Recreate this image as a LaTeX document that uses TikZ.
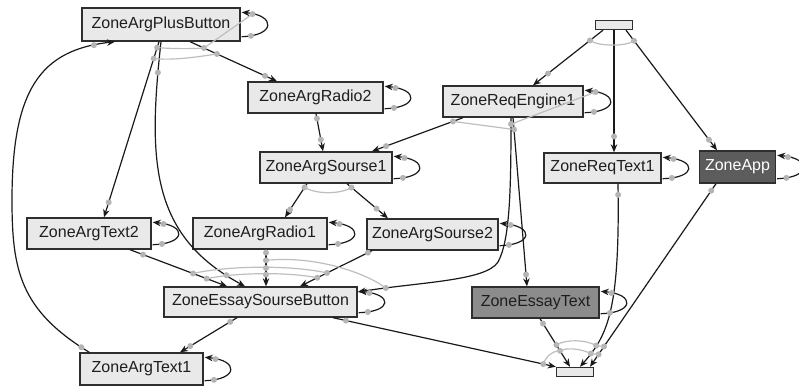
\documentclass[tikz,border=0pt]{standalone}
\usepackage{fontspec}
\setmainfont{Liberation Sans}
\usetikzlibrary{arrows.meta,calc}
\definecolor{bordc}{HTML}{2E2E2E}
\definecolor{boxfill}{HTML}{E9E9E9}
\definecolor{txtc}{HTML}{1E1E1E}
\definecolor{edgec}{HTML}{1A1A1A}
\definecolor{dotc}{HTML}{B4B4B4}
\definecolor{arcc}{HTML}{BEBEBE}
\definecolor{appfill}{HTML}{5C5C5C}
\definecolor{etfill}{HTML}{8C8C8C}
\newcommand\sloop[3]{\draw[edge] ([shift={(1,-5)}]#1.south east) .. controls +(34,-1) and +(34,3) .. ([shift={(1,5)}]#1.north east) node[dotn,pos=0.1](#2){} node[dotn,pos=0.88](#3){};}
\begin{document}
\begin{tikzpicture}[x=1pt,y=-1pt,
  box/.style={draw=bordc, line width=1.4pt, fill=boxfill, text=txtc, inner sep=0pt,
    font=\fontsize{16}{19}\selectfont, minimum height=31pt},
  edge/.style={draw=edgec, line width=1.2pt, -{Stealth[length=8pt,width=6.5pt]}},
  dotn/.style={circle, fill=dotc, inner sep=0pt, minimum size=6pt},
  garc/.style={draw=arcc, line width=1.2pt}]
\fill[white] (0,0) rectangle (799,385);
\useasboundingbox (0,0) rectangle (799,385);

% nodes
\node[box, minimum width=37pt, minimum height=9pt] (top) at (614,25) {};
\node[box, minimum width=158pt, minimum height=33pt] (PB) at (161,24.5) {ZoneArgPlusButton};
\node[box, minimum width=135pt] (R2) at (315.5,97.5) {ZoneArgRadio2};
\node[box, minimum width=140pt] (RE) at (513,101.5) {ZoneReqEngine1};
\node[box, minimum width=132pt] (S1) at (326,167.5) {ZoneArgSourse1};
\node[box, minimum width=117pt, minimum height=30pt] (RT) at (602.5,168) {ZoneReqText1};
\node[box, minimum width=76pt, minimum height=32pt, fill=appfill, text=white] (APP) at (737.5,167) {ZoneApp};
\node[box, minimum width=124pt] (T2) at (89,233.5) {ZoneArgText2};
\node[box, minimum width=134pt] (R1) at (260,233.5) {ZoneArgRadio1};
\node[box, minimum width=131pt] (S2) at (432.5,234.5) {ZoneArgSourse2};
\node[box, minimum width=193pt, minimum height=30pt] (ESB) at (260.5,302) {ZoneEssaySourseButton};
\node[box, minimum width=127pt, fill=etfill] (ET) at (535.5,302.5) {ZoneEssayText};
\node[box, minimum width=123pt, minimum height=32pt] (T1) at (141.5,369) {ZoneArgText1};
\node[box, minimum width=37pt, minimum height=9pt] (bot) at (575,372) {};

% edges
\draw[edge] ([shift={(-11,0)}]top.south) -- ([shift={(20,0)}]RE.north) node[dotn,pos=0.186](d1a){} node[dotn,pos=0.786]{};
\draw[edge] (top.south) -- ([shift={(11.5,0)}]RT.north) node[dotn,pos=0.87]{};
\draw[edge] ([shift={(12,0)}]top.south) -- ([shift={(-20.5,0)}]APP.north) node[dotn,pos=0.088](d3a){} node[dotn,pos=0.912]{};
\draw[edge] ([shift={(29,0)}]PB.south) -- ([shift={(-38.5,0)}]R2.north) node[dotn,pos=0.16](d4a){} node[dotn,pos=0.31](d4b){} node[dotn,pos=0.862]{};
\draw[edge] ([shift={(-2,0)}]PB.south) -- ([shift={(15,0)}]T2.north) node[dotn,pos=0.034](d5a){} node[dotn,pos=0.096](d5b){} node[dotn,pos=0.915]{};
\draw[edge] (PB.south) .. controls (148,160) and (150,235) .. ([shift={(-15.5,0)}]ESB.north) node[dotn,pos=0.09]{} node[dotn,pos=0.93]{};
\draw[edge] ([shift={(10,0)}]T1.north west) .. controls (20,310) and (12,270) .. (12,200) node[dotn,pos=0.04]{}
  .. controls (12,90) and (40,50) .. ([shift={(-46,0)}]PB.south) node[dotn,pos=0.9]{};
\draw[edge] ([shift={(0.5,0)}]R2.south) -- ([shift={(-3,0)}]S1.north) node[dotn,pos=0.13]{} node[dotn,pos=0.69]{};
\draw[edge] ([shift={(-50,0)}]RE.south) -- ([shift={(46,0)}]S1.north) node[dotn,pos=0.11](d9a){} node[dotn,pos=0.846]{};
\draw[edge] (RE.south) -- ([shift={(-8.5,0)}]ET.north) node[dotn,pos=0.07](d10a){} node[dotn,pos=0.93]{};
\draw[edge] ([shift={(-2,0)}]RE.south) .. controls (511,190) and (510,240) .. (498,262) node[dotn,pos=0.03](d11a){}
  .. controls (486,281) and (420,282) .. ([shift={(0,-10)}]ESB.east) node[dotn,pos=0.85](d11b){};
\draw[edge] ([shift={(15.5,0)}]RT.south) .. controls (620,310) and (608,335) .. ([shift={(5,0)}]bot.north) node[dotn,pos=0.03]{} node[dotn,pos=0.78](d12a){} node[dotn,pos=0.86](d12b){};
\draw[edge] ([shift={(-21.5,0)}]APP.south) -- ([shift={(15,0)}]bot.north) node[dotn,pos=0.038]{} node[dotn,pos=0.889](d13a){} node[dotn,pos=0.932](d13b){};
\draw[edge] ([shift={(4.5,0)}]ET.south) -- ([shift={(-5,0)}]bot.north) node[dotn,pos=0.1]{} node[dotn,pos=0.545](d14b){} node[dotn,pos=0.667](d14c){};
\draw[edge] ([shift={(72.5,0)}]ESB.south) -- (bot.north west) node[dotn,pos=0.058]{} node[dotn,pos=0.944](d15b){};
\draw[edge] ([shift={(-23.5,0)}]ESB.south) -- ([shift={(38.5,0)}]T1.north) node[dotn,pos=0.12]{} node[dotn,pos=0.82]{};
\draw[edge] ([shift={(-19,0)}]S1.south) -- ([shift={(25,0)}]R1.north) node[dotn,pos=0.11](d17a){} node[dotn,pos=0.77]{};
\draw[edge] ([shift={(21,0)}]S1.south) -- ([shift={(-44.5,0)}]S2.north) node[dotn,pos=0.11](d18a){} node[dotn,pos=0.72]{};
\draw[edge] ([shift={(41,0)}]T2.south) -- ([shift={(-33.5,0)}]ESB.north) node[dotn,pos=0.134]{} node[dotn,pos=0.65](d19b){} node[dotn,pos=0.79](d19c){};
\draw[edge] ([shift={(6,0)}]R1.south) -- ([shift={(5.5,0)}]ESB.north) node[dotn,pos=0.08]{} node[dotn,pos=0.29](d20b){} node[dotn,pos=0.5]{} node[dotn,pos=0.68]{};
\draw[edge] ([shift={(-60.5,0)}]S2.south) -- ([shift={(39.5,0)}]ESB.north) node[dotn,pos=0.056]{} node[dotn,pos=0.625](d21b){} node[dotn,pos=0.76](d21c){};

% self loops
\sloop{PB}{pbl1}{pbl2}
\sloop{R2}{r2l1}{r2l2}
\sloop{RE}{rel1}{rel2}
\sloop{S1}{s1l1}{s1l2}
\sloop{RT}{rtl1}{rtl2}
\sloop{APP}{apl1}{apl2}
\sloop{T2}{t2l1}{t2l2}
\sloop{R1}{r1l1}{r1l2}
\sloop{S2}{s2l1}{s2l2}
\sloop{ESB}{esl1}{esl2}
\sloop{ET}{etl1}{etl2}
\sloop{T1}{t1l1}{t1l2}

% gray arcs
\draw[garc] (d1a.center) .. controls +(8,6) and +(-8,6) .. (d3a.center);
\draw[garc] (d5a.center) .. controls +(15,1) and +(-15,1) .. (d4a.center);
\draw[garc] (d5b.center) .. controls +(20,2) and +(-20,3) .. (d4b.center);
\draw[garc] (d4a.center) -- (pbl2.center);
\draw[garc] (d9a.center) -- (d10a.center);
\draw[garc] (d11a.center) -- (rel2.center);
\draw[garc] (d17a.center) .. controls +(12,7) and +(-12,7) .. (d18a.center);
\draw[garc] (d19b.center) .. controls +(35,-8) and +(-35,-8) .. (d21b.center);
\draw[garc] (d19c.center) .. controls +(30,-6) and +(-30,-6) .. (d21c.center);
\draw[garc] (d20b.center) .. controls +(50,-5) and +(-20,-15) .. (d11b.center);
\draw[garc] (d14b.center) .. controls +(10,-6) and +(-10,-6) .. (d12a.center);
\draw[garc] (d12a.center) -- (d13a.center);
\draw[garc] (d15b.center) .. controls +(3,-9) and +(-6,0) .. (d14c.center);
\draw[garc] (d14c.center) .. controls +(8,-4) and +(-8,-4) .. (d12b.center);
\draw[garc] (d12b.center) -- (d13b.center);
\end{tikzpicture}
\end{document}
